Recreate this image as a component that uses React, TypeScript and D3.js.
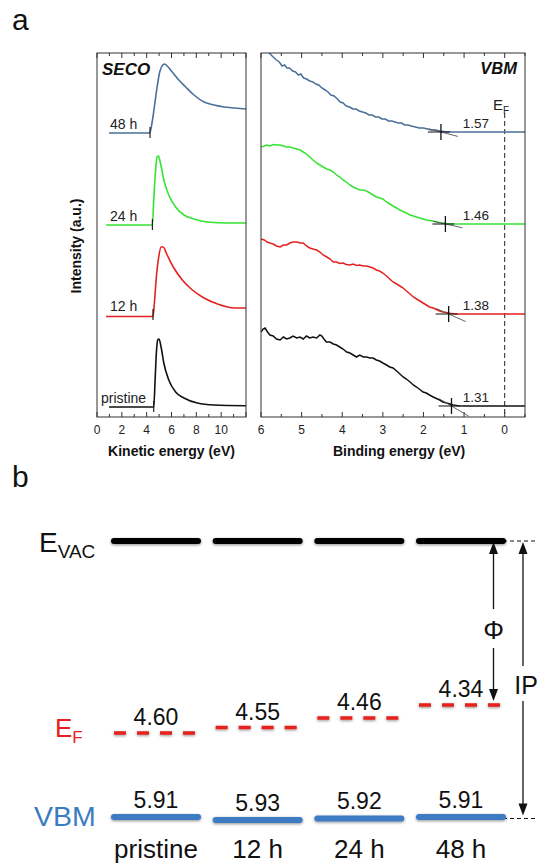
import React from "react";
import * as d3 from "d3";

type P = [number, number];

// ---------- Panel a data (relative intensity, a.u.) ----------
const secoPristine: P[] = [[0.97,-1],[4.57,-1],[4.68,26],[4.78,53],[4.89,66],[5.0,67],[5.16,59],[5.38,43],[5.78,26],[6.33,14],[7.0,8],[8.08,3],[9.43,1],[12.0,0.3]];
const seco12h: P[] = [[0.73,-2.5],[4.51,-2.5],[4.62,11],[4.78,37],[4.97,57],[5.16,67],[5.32,67],[5.65,59],[6.19,46],[6.87,34],[7.68,24],[8.62,16],[9.71,10],[11.05,6],[12.0,6]];
const seco24h: P[] = [[0.73,-1],[4.46,-1],[4.57,24],[4.70,51],[4.84,67],[4.95,68],[5.11,61],[5.38,44],[5.78,29],[6.33,17],[7.0,9],[7.81,5],[8.9,2],[10.52,1],[12.0,1]];
const seco48h: P[] = [[0.97,-1],[4.24,-1],[4.43,9],[4.62,25],[4.84,45],[5.05,60],[5.30,67],[5.46,68],[5.65,66],[6.06,60],[6.59,52],[7.14,45],[7.81,37],[8.62,30],[9.43,27],[10.24,25],[11.05,24],[12.0,23]];

const vbmPristine: P[] = [[6.00,74],[5.95,77],[5.90,78],[5.84,74],[5.78,71],[5.70,70],[5.62,67],[5.53,66],[5.45,69],[5.37,67],[5.29,68],[5.21,70],[5.12,68],[5.04,69],[4.96,67],[4.88,70],[4.80,68],[4.72,69],[4.63,68],[4.55,71],[4.50,70],[4.45,67],[4.39,64],[4.30,64],[4.22,62],[4.14,61],[4.06,59],[3.98,57],[3.89,54],[3.81,53],[3.73,51],[3.65,49],[3.57,51],[3.48,49],[3.40,49],[3.32,48],[3.24,48],[3.16,46],[3.08,45],[3.00,43],[2.91,41],[2.83,39],[2.75,38],[2.66,35],[2.58,32],[2.50,29],[2.42,27],[2.33,24],[2.25,21],[2.17,19],[2.09,16.5],[2.01,14],[1.93,13],[1.85,11],[1.76,9],[1.68,7.5],[1.60,6],[1.52,4],[1.43,3],[1.35,2],[1.27,1],[1.15,0.3],[1.02,0],[-0.5,0]];
const vbm12h: P[] = [[6.00,75],[5.92,74],[5.85,72],[5.78,71],[5.70,70],[5.62,68],[5.53,67],[5.45,69],[5.37,69],[5.29,71],[5.21,72],[5.12,72],[5.04,71],[4.96,71],[4.88,68],[4.80,66],[4.72,65],[4.63,64],[4.55,62],[4.47,59],[4.38,57],[4.30,55],[4.22,52],[4.14,52],[4.06,50.5],[3.98,51],[3.90,49.5],[3.81,49],[3.73,50],[3.65,48.5],[3.57,49],[3.48,48],[3.40,48],[3.32,47],[3.24,46],[3.16,44],[3.08,43],[3.00,41],[2.91,38],[2.83,35],[2.75,32],[2.66,30],[2.58,28],[2.50,26],[2.42,23],[2.33,20],[2.25,17],[2.17,15],[2.09,13],[2.01,11],[1.93,9],[1.85,7],[1.76,6],[1.68,4.5],[1.60,3],[1.52,2],[1.43,1.5],[1.35,0.7],[1.20,0],[-0.5,0]];
const vbm24h: P[] = [[6.00,77],[5.92,78],[5.85,79],[5.78,78],[5.70,79.5],[5.62,79],[5.53,79],[5.45,78],[5.37,77],[5.29,77],[5.21,76],[5.12,75],[5.04,74],[4.96,72],[4.88,70],[4.80,67],[4.72,64],[4.63,61],[4.55,59],[4.47,57],[4.38,55],[4.30,54],[4.22,52],[4.14,49],[4.06,47],[3.98,44],[3.90,42],[3.81,39],[3.73,37],[3.65,35.5],[3.57,34],[3.48,34],[3.40,33],[3.32,31],[3.24,29],[3.16,27],[3.08,26],[3.00,25],[2.91,22],[2.83,20],[2.75,18],[2.66,16],[2.58,14],[2.50,12.5],[2.42,11],[2.33,9],[2.25,8],[2.17,7],[2.09,6],[2.01,5],[1.93,4],[1.85,3.5],[1.76,3],[1.68,2],[1.60,1.5],[1.50,1],[1.43,0.5],[1.30,0],[-0.5,0]];
const vbm48h: P[] = [[5.80,79],[5.70,75],[5.62,72],[5.55,70],[5.48,66],[5.42,67],[5.36,64],[5.30,64],[5.22,61],[5.15,60],[5.08,57],[5.02,58],[4.95,54],[4.88,53],[4.80,51],[4.72,50],[4.65,48],[4.58,47],[4.50,44],[4.42,42],[4.35,40],[4.28,37],[4.20,36],[4.12,33],[4.05,30],[3.98,29],[3.90,26],[3.82,25],[3.74,23],[3.66,23],[3.58,21],[3.50,20],[3.42,19],[3.34,17],[3.26,17],[3.18,15],[3.10,15],[3.02,13],[2.94,13],[2.86,11],[2.78,11],[2.70,10],[2.62,9],[2.54,9],[2.46,7],[2.38,7],[2.30,6],[2.20,5],[2.10,4],[2.00,4],[1.90,3],[1.80,2],[1.70,2],[1.60,1],[1.50,0.5],[1.40,0],[-0.5,0]];

const sampleLabels = ["pristine", "12 h", "24 h", "48 h"];
const spectrumOffsets = [11, 103, 193, 285];
const spectrumColors = ["#111111", "#e3211f", "#35e335", "#4a6f98"];
const secoSeries = [secoPristine, seco12h, seco24h, seco48h];
const vbmSeries = [vbmPristine, vbm12h, vbm24h, vbm48h];
const secoOnsets = [4.57, 4.51, 4.46, 4.27];
const vbmOnsets = [1.31, 1.38, 1.46, 1.57];
const vbmOnsetLabels = ["1.31", "1.38", "1.46", "1.57"];
const tangentSlopes = [24, 18, 9, 10.6];

const kineticTicks = [0, 2, 4, 6, 8, 10];
const bindingTicks = [6, 5, 4, 3, 2, 1, 0];

// ---------- Panel b data (eV below vacuum level) ----------
const levelCategories = ["pristine", "12 h", "24 h", "48 h"];
const evacValues = [0, 0, 0, 0];
const efValues = [4.60, 4.55, 4.46, 4.34];
const efLabels = ["4.60", "4.55", "4.46", "4.34"];
const vbmValues = [5.91, 5.93, 5.92, 5.91];
const vbmLabels = ["5.91", "5.93", "5.92", "5.91"];

const FONT = "'Liberation Sans', Arial, sans-serif";

export default function App() {
  // panel geometry
  const top = 53, bottom = 417;
  const xK = d3.scaleLinear().domain([0, 12]).range([97, 246]);
  const xB = d3.scaleLinear().domain([6, -0.5]).range([261, 525]);
  const yI = d3.scaleLinear().domain([0, 364]).range([bottom, top]);

  const lineK = (off: number) => d3.line<P>().x(d => xK(d[0])).y(d => yI(off + d[1])).curve(d3.curveMonotoneX);
  const lineB = (off: number) => d3.line<P>().x(d => xB(d[0])).y(d => yI(off + d[1])).curve(d3.curveLinear);

  const kMinor = d3.range(0, 12.01, 1);
  const bMinor = d3.range(-0.5, 6.01, 0.5);

  // panel b scales
  const xCat = d3.scalePoint<string>().domain(levelCategories).range([156, 461]);
  const yE = d3.scaleLinear().domain([0, 4.34, 4.6, 5.91, 5.93]).range([541, 705, 733, 817, 820]);
  const half = 42;
  const barEnd = (xCat("48 h") as number) + half;

  const arrowHead = (x: number, y: number, dir: number) =>
    `M${x},${y} L${x - 4.5},${y + dir * 12} L${x + 4.5},${y + dir * 12} Z`;

  const phiX = barEnd - 9.5;
  const ipX = barEnd + 20;
  const yVac = yE(0);
  const yEf48 = yE(efValues[3]);
  const yVbmRef = yE(vbmValues[3]) + 1.5;

  return (
    <div style={{ position: "absolute", left: 0, top: 0 }}>
      <svg width={538} height={864} style={{ display: "block", fontFamily: FONT }}>
        <defs>
          <clipPath id="clipK"><rect x={xK(0)} y={top} width={xK(12) - xK(0)} height={bottom - top} /></clipPath>
          <clipPath id="clipB"><rect x={xB(6)} y={top} width={xB(-0.5) - xB(6)} height={bottom - top} /></clipPath>
          <filter id="soft" x="-10%" y="-200%" width="120%" height="500%">
            <feGaussianBlur in="SourceAlpha" stdDeviation="1.6" />
            <feOffset dx="0" dy="1.2" />
            <feComponentTransfer><feFuncA type="linear" slope="0.45" /></feComponentTransfer>
            <feMerge><feMergeNode /><feMergeNode in="SourceGraphic" /></feMerge>
          </filter>
        </defs>

        <text x={12} y={30} fontSize={30} fill="#111">a</text>

        {/* ---- Left panel: SECO ---- */}
        <g clipPath="url(#clipK)">
          {secoSeries.map((s, i) => (
            <path key={i} d={lineK(spectrumOffsets[i])(s) as string} fill="none" stroke={spectrumColors[i]} strokeWidth={1.6} />
          ))}
        </g>
        {secoOnsets.map((e, i) => (
          <line key={i} x1={xK(e)} x2={xK(e)} y1={yI(spectrumOffsets[i] + 5)} y2={yI(spectrumOffsets[i] - 6)} stroke="#111" strokeWidth={1.1} />
        ))}
        {sampleLabels.map((l, i) => (
          <text key={l} x={i === 0 ? 101 : 110} y={yI(spectrumOffsets[i]) - 3} fontSize={14} fill="#222">{l}</text>
        ))}
        <text x={102} y={75} fontSize={17} fontWeight="bold" fontStyle="italic" fill="#111">SECO</text>
        <rect x={xK(0)} y={top} width={xK(12) - xK(0)} height={bottom - top} fill="none" stroke="#333" strokeWidth={1} />
        {kMinor.map(t => {
          const major = t % 2 === 0;
          const len = major ? 5 : 3;
          return (
            <g key={t}>
              <line x1={xK(t)} x2={xK(t)} y1={bottom} y2={bottom - len} stroke="#333" />
              <line x1={xK(t)} x2={xK(t)} y1={top} y2={top + len} stroke="#333" />
            </g>
          );
        })}
        {kineticTicks.map(t => (
          <text key={t} x={xK(t)} y={434} fontSize={12} textAnchor="middle" fill="#222">{t}</text>
        ))}
        <text x={xK(6)} y={456} fontSize={14} fontWeight="bold" textAnchor="middle" fill="#111">Kinetic energy (eV)</text>
        <text transform="translate(81,246) rotate(-90)" fontSize={14} fontWeight="bold" textAnchor="middle" fill="#111">Intensity (a.u.)</text>

        {/* ---- Right panel: VBM ---- */}
        <line x1={xB(0)} x2={xB(0)} y1={113} y2={bottom} stroke="#222" strokeWidth={1} strokeDasharray="5 3" />
        <g clipPath="url(#clipB)">
          {vbmSeries.map((s, i) => (
            <path key={i} d={lineB(spectrumOffsets[i])(s) as string} fill="none" stroke={spectrumColors[i]} strokeWidth={1.5} />
          ))}
        </g>
        {vbmOnsets.map((e, i) => {
          const off = spectrumOffsets[i];
          const k = tangentSlopes[i];
          const e1 = e + 0.3, e2 = e - 0.42;
          return (
            <g key={i}>
              <line x1={xB(e1)} x2={xB(e2)} y1={yI(off + k * (e1 - e))} y2={yI(off + k * (e2 - e))} stroke="#555" strokeWidth={0.9} />
              <line x1={xB(e + 0.32)} x2={xB(e - 0.22)} y1={yI(off)} y2={yI(off)} stroke="#222" strokeWidth={1.1} />
              <line x1={xB(e)} x2={xB(e)} y1={yI(off) - 8} y2={yI(off) + 8} stroke="#111" strokeWidth={1.3} />
              <text x={xB(1.03)} y={yI(off) - 4.5} fontSize={13.5} fill="#222">{vbmOnsetLabels[i]}</text>
            </g>
          );
        })}
        <text x={517} y={74} fontSize={16.5} fontWeight="bold" fontStyle="italic" textAnchor="end" fill="#111">VBM</text>
        <text x={493} y={110} fontSize={15} fill="#222">E<tspan fontSize={10} dy={4}>F</tspan></text>
        <rect x={xB(6)} y={top} width={xB(-0.5) - xB(6)} height={bottom - top} fill="none" stroke="#333" strokeWidth={1} />
        {bMinor.map(t => {
          const major = Math.abs(t - Math.round(t)) < 1e-6;
          const len = major ? 5 : 3;
          return (
            <g key={t}>
              <line x1={xB(t)} x2={xB(t)} y1={bottom} y2={bottom - len} stroke="#333" />
              <line x1={xB(t)} x2={xB(t)} y1={top} y2={top + len} stroke="#333" />
            </g>
          );
        })}
        {bindingTicks.map(t => (
          <text key={t} x={xB(t)} y={434} fontSize={12} textAnchor="middle" fill="#222">{t}</text>
        ))}
        <text x={xB(2.6)} y={456} fontSize={14} fontWeight="bold" textAnchor="middle" fill="#111">Binding energy (eV)</text>

        {/* ---- Panel b: energy levels ---- */}
        <text x={12} y={487} fontSize={30} fill="#111">b</text>

        <text x={39} y={552} fontSize={28} fill="#111">E<tspan fontSize={19} dy={6}>VAC</tspan></text>
        <text x={55} y={737} fontSize={26} fill="#e5201e">E<tspan fontSize={17} dy={6}>F</tspan></text>
        <text x={34} y={826} fontSize={28.5} fill="#3b7bbf">VBM</text>

        {/* reference dashed extensions */}
        <line x1={barEnd} x2={538} y1={yVac} y2={yVac} stroke="#111" strokeWidth={1.2} strokeDasharray="4 3" />
        <line x1={barEnd} x2={538} y1={yVbmRef} y2={yVbmRef} stroke="#111" strokeWidth={1.2} strokeDasharray="4 3" />

        <g filter="url(#soft)">
          {levelCategories.map((c, i) => (
            <line key={c} x1={(xCat(c) as number) - half} x2={(xCat(c) as number) + half} y1={yE(evacValues[i])} y2={yE(evacValues[i])}
              stroke="#000" strokeWidth={6} strokeLinecap="round" />
          ))}
          {levelCategories.map((c, i) => (
            <line key={c} x1={(xCat(c) as number) - half} x2={(xCat(c) as number) + half} y1={yE(vbmValues[i])} y2={yE(vbmValues[i])}
              stroke="#3c7cc2" strokeWidth={6} strokeLinecap="round" />
          ))}
          {levelCategories.map((c, i) => (
            <line key={c} x1={(xCat(c) as number) - half} x2={(xCat(c) as number) + half} y1={yE(efValues[i])} y2={yE(efValues[i])}
              stroke="#e5201e" strokeWidth={3.5} strokeDasharray="12 11" />
          ))}
        </g>

        {levelCategories.map((c, i) => (
          <text key={c} x={xCat(c) as number} y={yE(efValues[i]) - 8} fontSize={23} textAnchor="middle" fill="#111">{efLabels[i]}</text>
        ))}
        {levelCategories.map((c, i) => (
          <text key={c} x={xCat(c) as number} y={yE(vbmValues[i]) - 9.5} fontSize={23} textAnchor="middle" fill="#111">{vbmLabels[i]}</text>
        ))}
        {levelCategories.map(c => (
          <text key={c} x={xCat(c) as number} y={858} fontSize={26} textAnchor="middle" fill="#111">{c}</text>
        ))}

        {/* work function arrow */}
        <line x1={phiX} x2={phiX} y1={yVac + 10} y2={609} stroke="#111" strokeWidth={1.3} />
        <line x1={phiX} x2={phiX} y1={648} y2={yEf48 - 12} stroke="#111" strokeWidth={1.3} />
        <path d={arrowHead(phiX, yVac + 1, 1)} fill="#111" />
        <path d={arrowHead(phiX, yEf48 - 4, -1)} fill="#111" />
        <text x={phiX} y={639} fontSize={26} textAnchor="middle" fill="#111">Φ</text>

        {/* ionization potential arrow */}
        <line x1={ipX} x2={ipX} y1={yVac + 10} y2={666} stroke="#111" strokeWidth={1.3} />
        <line x1={ipX} x2={ipX} y1={701} y2={yVbmRef - 12} stroke="#111" strokeWidth={1.3} />
        <path d={arrowHead(ipX, yVac + 1, 1)} fill="#111" />
        <path d={arrowHead(ipX, yVbmRef - 3, -1)} fill="#111" />
        <text x={ipX + 3} y={694} fontSize={25} textAnchor="middle" fill="#111">IP</text>
      </svg>
    </div>
  );
}
